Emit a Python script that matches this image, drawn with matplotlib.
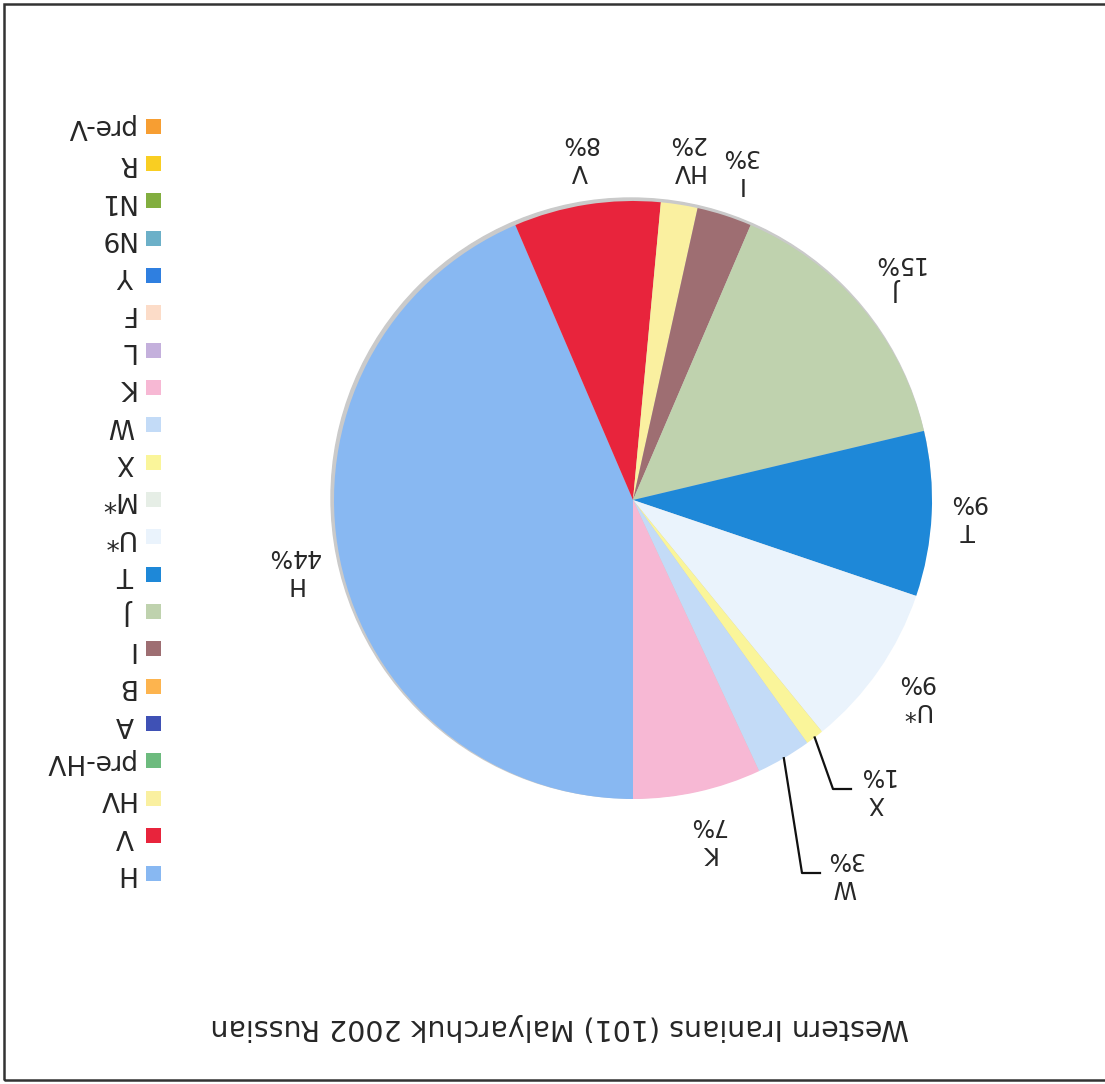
import numpy as np
import matplotlib
matplotlib.use("Agg")
import matplotlib.pyplot as plt
from matplotlib.patches import Circle, Rectangle

# Haplogroup composition, sample of 101
haplogroups = ["H", "V", "HV", "pre-HV", "A", "B", "I", "J", "T", "U*", "M*",
               "X", "W", "K", "L", "F", "Y", "N9", "N1", "R", "pre-V"]
counts = [44, 8, 2, 0, 0, 0, 3, 15, 9, 9, 0, 1, 3, 7, 0, 0, 0, 0, 0, 0, 0]
colors = ["#88B8F2", "#E8243C", "#FAF0A0", "#6DBB7E", "#3F51B5", "#FDB44E",
          "#9E6E72", "#BFD2AE", "#1E88D8", "#EAF3FC", "#E6EEE6", "#FAF59A",
          "#C3DBF7", "#F7B8D4", "#C4B0DC", "#FCDCC8", "#2F7FE0", "#6CB0C8",
          "#82AE3F", "#F9CE22", "#F79E32"]
title = "Western Iranians (101) Malyarchuk 2002 Russian"

W_PX, H_PX = 1105, 1084
fig = plt.figure(figsize=(W_PX / 100, H_PX / 100), dpi=100)
ax = fig.add_axes([0, 0, 1, 1])

txt_color = "#262626"
cx, cy, R = 633, H_PX - 500, 299

# soft grey rim behind the pie
ax.add_patch(Circle((cx - 2, cy + 2), R + 1, color="#CACACA", zorder=0))

wedges, _ = ax.pie(counts, colors=colors, startangle=270, counterclock=False,
                   center=(cx, cy), radius=R, frame=True,
                   wedgeprops=dict(linewidth=0))

total = sum(counts)
label_dist = {"T": 1.12, "U*": 1.15}
# leader-line geometry (offsets from centre) for the narrow slices
leaders = {"X": (200, -289), "W": (169, -373)}
for name, val, w in zip(haplogroups, counts, wedges):
    if val == 0:
        continue
    label = f"{name}\n{round(100 * val / total)}%"
    ang = np.deg2rad((w.theta1 + w.theta2) / 2)
    if name in leaders:
        ex, ey = leaders[name]
        px, py = cx + R * np.cos(ang), cy + R * np.sin(ang)
        ax.plot([px, cx + ex, cx + ex + 18], [py, cy + ey, cy + ey],
                color="#111111", lw=1.6, zorder=3)
        tx, ty = cx + ex + 43, cy + ey
    else:
        d = label_dist.get(name, 1.16)
        tx, ty = cx + d * R * np.cos(ang), cy + d * R * np.sin(ang)
    ax.text(tx, ty, label, rotation=180, ha="center", va="center",
            fontsize=17, color=txt_color, linespacing=1.2)

# legend, drawn upside down
for i, (name, col) in enumerate(zip(haplogroups[::-1], colors[::-1])):
    y = H_PX - (126 + 37.35 * i)
    ax.add_patch(Rectangle((146, y - 7.5), 15, 15, color=col, lw=0))
    ax.text(134, y, name, rotation=180, ha="right", va="center",
            fontsize=19, color=txt_color)

ax.text(560, H_PX - 1027, title, rotation=180, ha="center", va="center",
        fontsize=20.5, color=txt_color)

# outer frame
ax.add_patch(Rectangle((4, 4), W_PX + 10, H_PX - 8, fill=False,
                       edgecolor="#333333", lw=1.8, zorder=5))

ax.set_xlim(0, W_PX)
ax.set_ylim(0, H_PX)
ax.set_axis_off()
fig.savefig("out.png", dpi=100, facecolor="white")
